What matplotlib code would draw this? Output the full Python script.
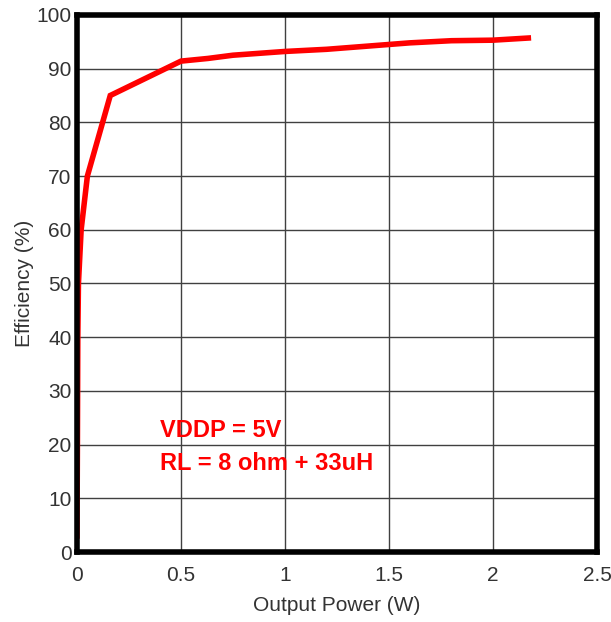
import matplotlib.pyplot as plt

plt.rcParams['font.family'] = ['Liberation Sans', 'DejaVu Sans']

power = [0.0, 0.002, 0.004, 0.007, 0.02, 0.05, 0.16, 0.5, 0.63, 0.75, 1.0, 1.2, 1.5, 1.6, 1.8, 2.0, 2.17]
efficiency = [3, 20, 40, 50, 60, 70, 85, 91.4, 91.9, 92.5, 93.2, 93.6, 94.5, 94.8, 95.2, 95.3, 95.7]

fig = plt.figure(figsize=(6.11, 6.22), dpi=100)
ax = fig.add_axes([0.126, 0.1125, 0.851, 0.8635])

ax.plot(power, efficiency, color='red', linewidth=4, solid_joinstyle='miter')

ax.set_xlim(0, 2.5)
ax.set_ylim(0, 100)
ax.set_xticks([0, 0.5, 1, 1.5, 2, 2.5])
ax.set_xticklabels(['0', '0.5', '1', '1.5', '2', '2.5'])
ax.set_yticks(range(0, 101, 10))
ax.grid(True, color='#404040', linewidth=1)
ax.set_axisbelow(True)
for s in ax.spines.values():
    s.set_linewidth(4)
ax.tick_params(labelsize=15, length=0, pad=4, labelcolor='#333333')
ax.tick_params(axis='x', pad=10)

ax.set_xlabel('Output Power (W)', fontsize=15, color='#333333', labelpad=8)
ax.set_ylabel('Efficiency (%)', fontsize=15, color='#333333', labelpad=2)

ax.text(0.4, 22.7, 'VDDP = 5V', color='red', fontsize=17, fontweight='bold', va='center')
ax.text(0.4, 16.5, 'RL = 8 ohm + 33uH', color='red', fontsize=17, fontweight='bold', va='center')

fig.savefig('out.png')
